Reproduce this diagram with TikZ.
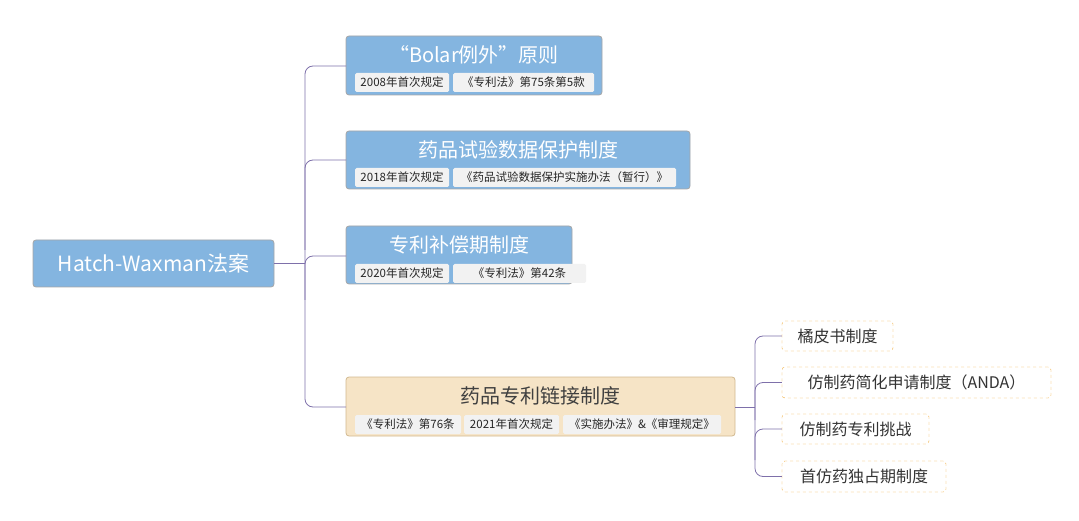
\documentclass[tikz,border=0pt]{standalone}
\usepackage{fontspec}
\setmainfont{Noto Sans CJK SC}
\definecolor{blu}{HTML}{84B5E0}
\definecolor{ora}{HTML}{F6E4C6}
\definecolor{orab}{HTML}{D2B98F}
\definecolor{lnc}{HTML}{7E70AA}
\definecolor{tag}{HTML}{F2F2F2}
\definecolor{dsh}{HTML}{F0A830}
\begin{document}
\begin{tikzpicture}[x=1pt,y=-1pt,
 box/.style={draw=black!35,fill=blu,rounded corners=3pt,line width=0.8pt},
 obox/.style={draw=orab,fill=ora,rounded corners=3pt,line width=0.8pt},
 ttl/.style={font=\fontsize{20}{22}\selectfont,text=white},
 tg/.style={fill=tag,rounded corners=1.5pt,font=\fontsize{11.5}{13}\selectfont,text=black!85,inner sep=0pt},
 kid/.style={draw=dsh,dashed,fill=white,rounded corners=3pt,font=\fontsize{16}{18}\selectfont,text=black!80,inner sep=0pt},
 ln/.style={draw=lnc,line width=0.8pt,rounded corners=8pt}]
\useasboundingbox (0,0) rectangle (1079,521);
\node[box,minimum width=241pt,minimum height=47pt,font=\fontsize{21}{24}\selectfont,text=white] (root) at (153.5,263.5) {Hatch-Waxman法案};
% boxes
\draw[box] (346,36) rectangle (602,95); \coordinate (b1) at (346,66);
\node[ttl] (t1) at (474,55) {“Bolar例外”原则};
\draw[box] (346,131) rectangle (690,189); \coordinate (b2) at (346,160);
\node[ttl] (t2) at (518,150) {药品试验数据保护制度};
\draw[box] (346,226) rectangle (572,284); \coordinate (b3) at (346,256);
\node[ttl] (t3) at (459,245) {专利补偿期制度};
\draw[obox] (346,377) rectangle (735,436); \coordinate (b4) at (346,407); \coordinate (b4r) at (735,407);
\node[ttl,text=black!75] (t4) at (540,396) {药品专利链接制度};
% tags
\node[tg,minimum width=94pt,minimum height=19pt] (g11) at (402,82.5) {2008年首次规定};
\node[tg,minimum width=141pt,minimum height=19pt] (g12) at (523.5,82.5) {《专利法》第75条第5款};
\node[tg,minimum width=94pt,minimum height=19pt] (g21) at (402,177.5) {2018年首次规定};
\node[tg,minimum width=223pt,minimum height=19pt] (g22) at (564.5,177.5) {《药品试验数据保护实施办法（暂行）》};
\node[tg,minimum width=94pt,minimum height=19pt] (g31) at (402,273.5) {2020年首次规定};
\node[tg,minimum width=133pt,minimum height=19pt] (g32) at (519.5,273.5) {《专利法》第42条};
\node[tg,minimum width=106pt,minimum height=19pt] (g41) at (408,424.5) {《专利法》第76条};
\node[tg,minimum width=95pt,minimum height=19pt] (g42) at (511.5,424.5) {2021年首次规定};
\node[tg,minimum width=158pt,minimum height=19pt] (g43) at (642,424.5) {《实施办法》\&《审理规定》};
% kids
\node[kid,minimum width=111pt,minimum height=30pt] (k1) at (837.5,336) {橘皮书制度};
\node[kid,minimum width=269pt,minimum height=31pt] (k2) at (916.5,382.5) {仿制药简化申请制度（ANDA）};
\node[kid,minimum width=147pt,minimum height=30pt] (k3) at (855.5,429) {仿制药专利挑战};
\node[kid,minimum width=164pt,minimum height=31pt] (k4) at (864,476.5) {首仿药独占期制度};
% connectors
\draw[ln] (root.east) -- (305,263.5);
\draw[ln] (b1) -- (305,66) -- (305,407) -- (b4);
\draw[ln] (b2) -- (305,160) -- (305,250);
\draw[ln] (b3) -- (305,256) -- (305,300);
\draw[ln] (b4r) -- (755,407);
\draw[ln] (k1.west) -- (755,336) -- (755,476.5) -- (k4.west);
\draw[ln] (k2.west) -- (755,382.5) -- (755,420);
\draw[ln] (k3.west) -- (755,429) -- (755,460);
\end{tikzpicture}
\end{document}
